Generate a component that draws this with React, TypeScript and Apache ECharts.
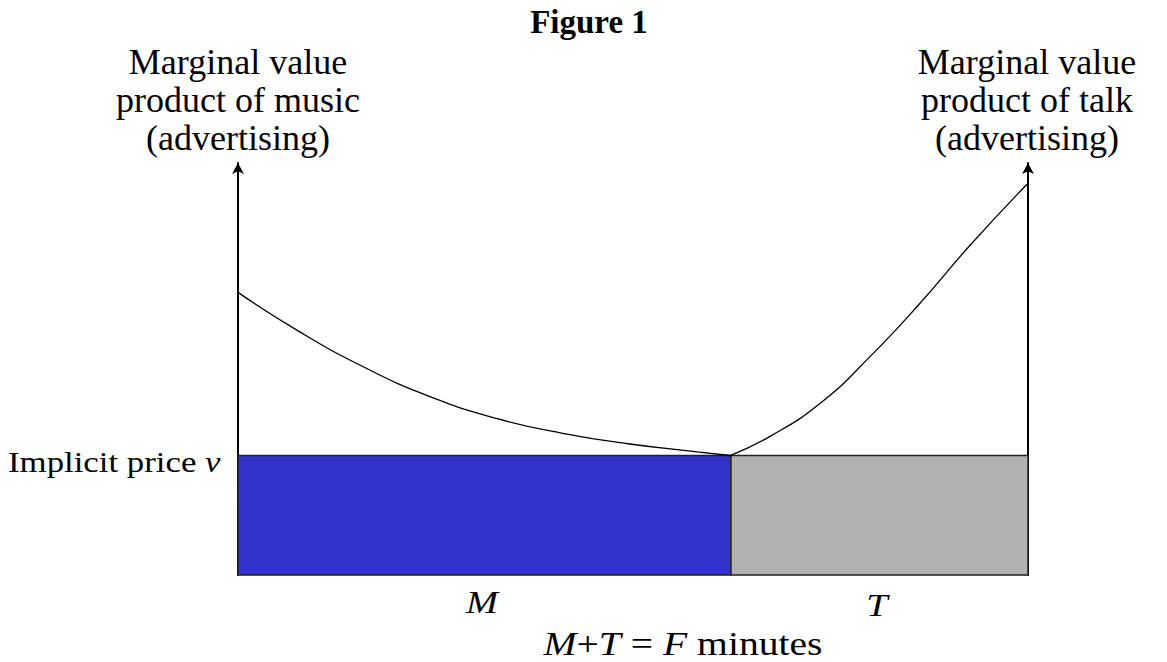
import React, { useEffect, useRef } from "react";
import * as echarts from "echarts";

// Units: x = share of the F minutes (0..100), y = marginal value (0..100)
const priceV = 29.0;
const musicShare = 62.4;
const segments = [
  { name: "M", from: 0, to: musicShare, color: "#3333CC" },
  { name: "T", from: musicShare, to: 100, color: "#B2B2B2" },
];
const musicCurve: [number, number][] = [
  [0, 68.6], [7.4, 59.5], [15.8, 50.6], [24.3, 43.3], [32.7, 38.0],
  [41.1, 34.4], [49.6, 31.8], [58.1, 29.9], [62.3, 29.0],
];
const talkCurve: [number, number][] = [
  [62.3, 29.0], [67.3, 33.6], [73.7, 41.7], [80.0, 53.0],
  [86.3, 65.9], [92.7, 80.1], [100, 95.1],
];
const leftLabel = ["Marginal value", "product of music", "(advertising)"];
const rightLabel = ["Marginal value", "product of talk", "(advertising)"];

const FONT = "'Liberation Serif', 'Times New Roman', serif";

export default function App() {
  const ref = useRef<HTMLDivElement>(null);
  useEffect(() => {
    if (!ref.current) return;
    const chart = echarts.init(ref.current, null, { renderer: "svg" });
    const axisCommon = {
      type: "value" as const,
      min: 0,
      max: 100,
      axisLine: {
        show: true,
        lineStyle: { color: "#000", width: 2 },
        symbol: ["none", "arrow"],
        symbolSize: [9, 11],
      },
      axisTick: { show: false },
      axisLabel: { show: false },
      splitLine: { show: false },
    };
    const textBase = { fontFamily: FONT, fill: "#000" };
    const labelTexts: any[] = [];
    leftLabel.forEach((t, i) =>
      labelTexts.push({
        type: "text",
        x: 238,
        y: 62 + i * 38,
        style: { ...textBase, text: t, fontSize: 36, align: "center", verticalAlign: "middle" },
      })
    );
    rightLabel.forEach((t, i) =>
      labelTexts.push({
        type: "text",
        x: 1027,
        y: 62 + i * 38,
        style: { ...textBase, text: t, fontSize: 36, align: "center", verticalAlign: "middle" },
      })
    );
    chart.setOption({
      animation: false,
      grid: { left: 238, right: 139, top: 163, bottom: 87 },
      xAxis: {
        type: "value",
        min: 0,
        max: 100,
        axisLine: { show: false },
        axisTick: { show: false },
        axisLabel: { show: false },
        splitLine: { show: false },
      },
      yAxis: [
        { ...axisCommon, position: "left" },
        { ...axisCommon, position: "right" },
      ],
      series: [
        {
          type: "custom",
          renderItem: (params: any, api: any) => {
            const x0 = api.value(0);
            const x1 = api.value(1);
            const idx = params.dataIndex;
            const p0 = api.coord([x0, priceV]);
            const p1 = api.coord([x1, 0]);
            return {
              type: "rect",
              shape: { x: p0[0], y: p0[1], width: p1[0] - p0[0], height: p1[1] - p0[1] },
              style: { fill: segments[idx].color, stroke: "#222", lineWidth: 1.5 },
            };
          },
          data: segments.map((s) => [s.from, s.to]),
          z: 1,
        },
        {
          type: "line",
          data: musicCurve,
          smooth: 0.5,
          symbol: "none",
          lineStyle: { color: "#000", width: 1.3 },
          z: 3,
        },
        {
          type: "line",
          data: talkCurve,
          smooth: 0.5,
          symbol: "none",
          lineStyle: { color: "#000", width: 1.3 },
          z: 3,
        },
      ],
      graphic: [
        {
          type: "text",
          x: 589,
          y: 22,
          style: { ...textBase, text: "Figure 1", fontSize: 33, fontWeight: "bold", align: "center", verticalAlign: "middle" },
        },
        ...labelTexts,
        {
          type: "text",
          x: 8,
          y: 462,
          scaleX: 1.2,
          style: {
            ...textBase,
            text: "Implicit price {i|v}",
            fontSize: 29,
            align: "left",
            verticalAlign: "middle",
            rich: { i: { fontFamily: FONT, fontSize: 29, fontStyle: "italic" } },
          },
        },
        {
          type: "text",
          x: 482,
          y: 603,
          scaleX: 1.2,
          style: { ...textBase, text: "M", fontSize: 32, fontStyle: "italic", align: "center", verticalAlign: "middle" },
        },
        {
          type: "text",
          x: 877,
          y: 606,
          scaleX: 1.2,
          style: { ...textBase, text: "T", fontSize: 32, fontStyle: "italic", align: "center", verticalAlign: "middle" },
        },
        {
          type: "text",
          x: 683,
          y: 644,
          scaleX: 1.2,
          style: {
            ...textBase,
            text: "{i|M}+{i|T} = {i|F} minutes",
            fontSize: 33,
            align: "center",
            verticalAlign: "middle",
            rich: { i: { fontFamily: FONT, fontSize: 33, fontStyle: "italic" } },
          },
        },
      ],
    });
    return () => chart.dispose();
  }, []);
  return (
    <div
      ref={ref}
      style={{ position: "fixed", left: 0, top: 0, width: 1167, height: 662, background: "#fff" }}
    />
  );
}
